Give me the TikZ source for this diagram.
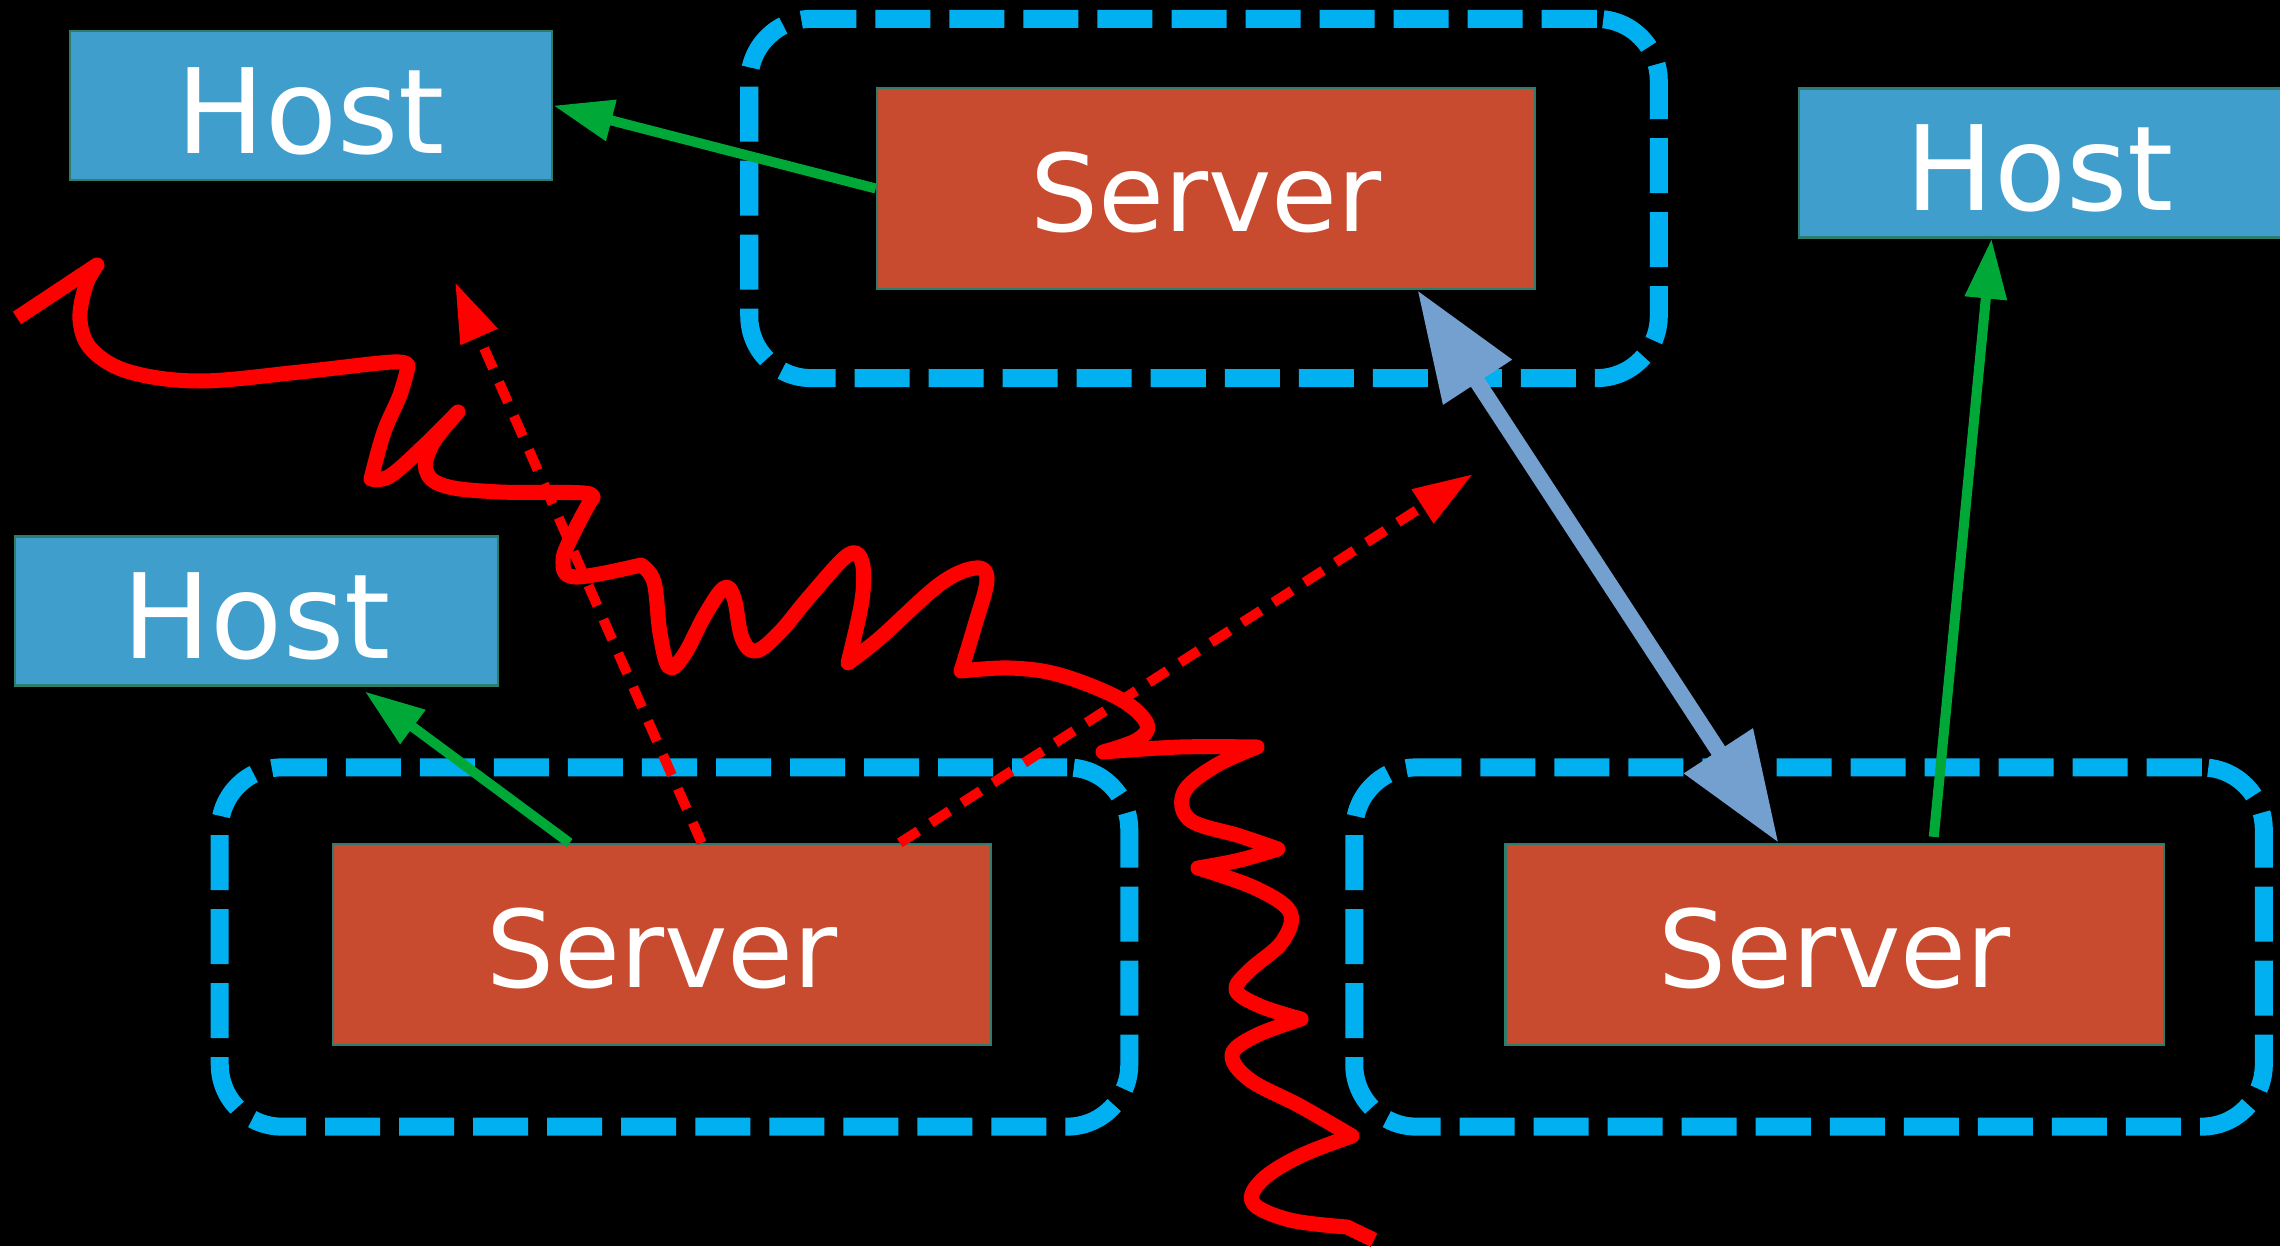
\documentclass[tikz,border=0pt]{standalone}
\usepackage{fontspec}
\setmainfont{DejaVu Sans}
\usepackage{tikz}
\usetikzlibrary{positioning, arrows.meta, calc}

\definecolor{hostblue}{HTML}{409ECD}
\definecolor{serverred}{HTML}{C84B2F}
\definecolor{edgeteal}{HTML}{2E7D6C}
\definecolor{zonecyan}{HTML}{00B0F0}
\definecolor{linkgreen}{HTML}{00A838}
\definecolor{replicablue}{HTML}{74A0D0}
\definecolor{noisered}{HTML}{FF0000}

\begin{document}
\begin{tikzpicture}[x=0.01cm, y=-0.01cm, node distance=11.72cm]
    % Define styles
    \tikzstyle{host} = [rectangle, draw=edgeteal, line width=0.6pt, fill=hostblue, text=white, minimum width=4.82cm, minimum height=1.49cm, inner sep=0pt, text height=0.95cm, text depth=0pt, font=\fontsize{33.5}{40}\selectfont]
    \tikzstyle{server} = [rectangle, draw=edgeteal, line width=0.6pt, fill=serverred, text=white, minimum width=6.58cm, minimum height=2.01cm, inner sep=0pt, text height=0.86cm, text depth=0pt, font=\fontsize{30.5}{36}\selectfont]
    \tikzstyle{zone} = [rectangle, draw=zonecyan, line width=0.18cm, dash pattern=on 0.55cm off 0.19cm, rounded corners=0.62cm, minimum width=9.09cm, minimum height=3.59cm]
    \tikzstyle{link} = [-{Triangle[length=0.6cm, width=0.4cm]}, draw=linkgreen, line width=0.1cm]
    \tikzstyle{replica} = [{Triangle[length=1.1cm, width=0.78cm]}-{Triangle[length=1.1cm, width=0.78cm]}, draw=replicablue, line width=0.16cm]
    \tikzstyle{probe} = [-{Triangle[length=0.6cm, width=0.38cm]}, draw=noisered, line width=0.1cm, dash pattern=on 0.22cm off 0.15cm]
    \tikzstyle{noise} = [draw=noisered, line width=0.15cm, line join=round]

    % Background
    \fill[black] (0,0) rectangle (2280,1246);
    \useasboundingbox (0,0) rectangle (2280,1246);

    % Zones
    \node[zone] (zone1) at (1204,198.5) {};
    \node[zone] (zone2) at (674.5,947) {};
    \node[zone] (zone3) at (1809,947) {};

    % Nodes
    \node[server] (srv1) at (1206,188.5) {Server};
    \node[server] (srv2) at (662,944.5) {Server};
    \node[server, right of=srv2] (srv3) {Server};
    \node[host] (host1) at (311,105.5) {Host};
    \node[host] (host2) at (2040,163) {Host};
    \node[host] (host3) at (256.5,611) {Host};
    \coordinate (scan1) at (455,282);
    \coordinate (scan2) at (1473,474);

    % Connections
    \draw[link] (srv1.west) -- (host1.east);
    \draw[link, shorten >=0.08cm] ($(srv2.north west)!0.36!(srv2.north east)$) -- ($(host3.south west)!0.71!(host3.south east)$);
    \draw[link] ($(srv3.north west)!0.65!(srv3.north east)+(0,-6)$) -- ($(host2.south west)!0.4!(host2.south east)$);
    \draw[replica] ($(srv1.south west)!0.82!(srv1.south east)$) -- ($(srv3.north west)!0.415!(srv3.north east)$);
    \draw[probe] ($(srv2.north west)!0.56!(srv2.north east)$) -- (scan1);
    \draw[probe] ($(srv2.north west)!0.86!(srv2.north east)$) -- (scan2);

    % Interference
    \draw[noise] (17,318) -- (97,265)
        -- plot[smooth, tension=0.6] coordinates {(97,265) (86,285) (80,320) (92,350) (130,372) (200,381) (300,372) (393,362) (408,367)}
        -- plot[smooth, tension=0.6] coordinates {(408,367) (400,395) (384,432) (371,479)}
        -- plot[smooth, tension=0.6] coordinates {(371,479) (390,476) (425,445) (458,412)}
        -- plot[smooth, tension=0.6] coordinates {(458,412) (433,443) (426,470) (445,486) (500,492) (584,493) (591,500)}
        -- plot[smooth, tension=0.6] coordinates {(591,500) (575,530) (563,560) (575,577) (641,565)}
        -- plot[smooth, tension=0.6] coordinates {(641,565) (654,582) (660,633) (669,667) (684,655) (705,615) (724,588) (734,598) (742,638) (756,651) (780,632) (810,596) (848,555) (862,562) (862,600) (848,663)}
        -- plot[smooth, tension=0.6] coordinates {(848,663) (880,638) (940,584) (976,568) (987,580) (975,625) (961,671)}
        -- plot[smooth, tension=0.6] coordinates {(961,671) (1010,668) (1060,675) (1120,699) (1147,724) (1137,740) (1103,752)}
        -- plot[smooth, tension=0.6] coordinates {(1103,752) (1180,747) (1257,747)}
        -- plot[smooth, tension=0.6] coordinates {(1257,747) (1215,766) (1184,792) (1190,820) (1240,836) (1278,849)}
        -- plot[smooth, tension=0.6] coordinates {(1278,849) (1240,860) (1198,868)}
        -- plot[smooth, tension=0.6] coordinates {(1198,868) (1255,888) (1290,912) (1282,942) (1250,970) (1236,990) (1260,1006) (1301,1019)}
        -- plot[smooth, tension=0.6] coordinates {(1301,1019) (1255,1036) (1232,1055) (1250,1080) (1300,1106) (1352,1136)}
        -- plot[smooth, tension=0.6] coordinates {(1352,1136) (1300,1156) (1262,1180) (1253,1203) (1290,1220) (1347,1227)}
        -- (1374,1240);
\end{tikzpicture}
\end{document}
